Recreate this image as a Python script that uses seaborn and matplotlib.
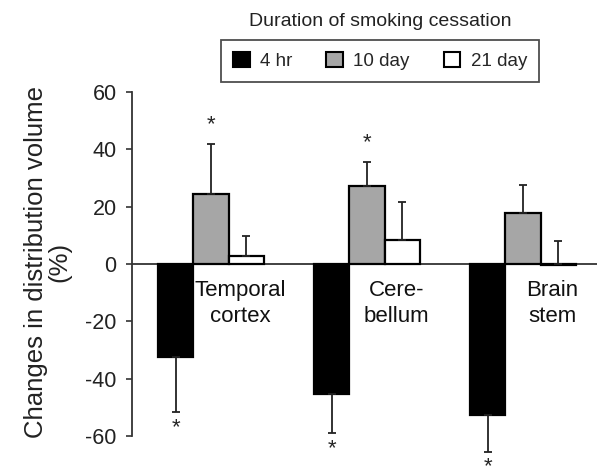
import pandas as pd
import matplotlib.pyplot as plt
import seaborn as sns
from matplotlib.patches import Patch

# Data
regions = ['Temporal\ncortex', 'Cere-\nbellum', 'Brain\nstem']
durations = ['4 hr', '10 day', '21 day']
change_4hr = [-32.3, -45.3, -52.7]
change_10day = [24.3, 27.2, 17.7]
change_21day = [2.9, 8.3, -0.4]
err_4hr = [19.3, 13.8, 12.8]
err_10day = [17.6, 8.5, 10.0]
err_21day = [6.9, 13.4, 8.2]
# error bars point down for 4 hr, up for the others
err_down = [True, False, False]
sig_4hr = [True, True, True]
sig_10day = [True, True, False]
sig_21day = [False, False, False]

colors = ['#000000', '#a6a6a6', '#ffffff']

df = pd.DataFrame({
    'Region': regions * 3,
    'Duration': [d for d in durations for _ in regions],
    'Change': change_4hr + change_10day + change_21day,
})
errs = [err_4hr, err_10day, err_21day]
sigs = [sig_4hr, sig_10day, sig_21day]

sns.set_style('white')
plt.rcParams['font.family'] = ['Liberation Sans', 'DejaVu Sans']
plt.rcParams['axes.unicode_minus'] = False

fig = plt.figure(figsize=(5.97, 4.73), dpi=100)
ax = fig.add_axes([0.2211, 0.0, 0.7789, 0.8055])

sns.barplot(data=df, x='Region', y='Change', hue='Duration', order=regions,
            hue_order=durations, palette=colors, edgecolor='black',
            linewidth=1.6, width=0.675, errorbar=None, legend=False, ax=ax,
            saturation=1)

# One-sided error bars and asterisks
for cont, err, sig, down in zip(ax.containers, errs, sigs, err_down):
    for bar, e, s in zip(cont, err, sig):
        x = bar.get_x() + bar.get_width() / 2
        y = bar.get_y() + bar.get_height()
        if down:
            y = min(bar.get_y(), y)
            lo, hi = e, 0
        else:
            y = max(bar.get_y(), y)
            lo, hi = 0, e
        ax.errorbar(x, y, yerr=[[lo], [hi]], fmt='none', ecolor='#222222',
                    elinewidth=1.3, capsize=3, capthick=1.3, zorder=1)
        if s:
            end = y + hi - lo
            off = 14 if hi > 0 else -11
            ax.annotate('*', (x, end), xytext=(0, off), textcoords='offset points',
                        ha='center', va='center', fontsize=16)

ax.axhline(0, color='#333333', lw=1.3, zorder=0)

for i, lab in enumerate(regions):
    ax.text(i + 0.19, -5.5, lab, ha='center', va='top', fontsize=16,
            linespacing=1.3, color='#111111')

ax.set_xlim(-0.506, 2.474)
ax.set_ylim(-72.9, 60)
ax.set_yticks([60, 40, 20, 0, -20, -40, -60])
ax.set_xticks([])
ax.set_xlabel('')
for sp in ['top', 'right', 'bottom']:
    ax.spines[sp].set_visible(False)
ax.spines['left'].set_bounds(-60, 60)
ax.spines['left'].set_color('#333333')
ax.spines['left'].set_linewidth(1.3)
ax.tick_params(axis='y', left=True, direction='out', length=4, width=1.2,
               color='#333333', pad=7, labelsize=15.5, labelcolor='#222222')
ax.set_ylabel('Changes in distribution volume\n(%)', fontsize=18.5,
              linespacing=1.0, color='#222222')
ax.yaxis.set_label_coords(-0.13, 0.554)

handles = [Patch(facecolor=c, edgecolor='black', linewidth=1.5) for c in colors]
leg = fig.legend(handles, durations, loc='center', bbox_to_anchor=(380 / 597, 1 - 61 / 473),
                 ncol=3, frameon=True, fancybox=False, fontsize=13.5,
                 handlelength=0.9, handleheight=0.9, handletextpad=0.55,
                 columnspacing=1.8, borderpad=0.65)
leg.get_frame().set_edgecolor('#222222')
leg.get_frame().set_linewidth(1.3)
fig.text(380 / 597, 1 - 22 / 473, 'Duration of smoking cessation', ha='center',
         va='center', fontsize=14, color='#222222')

fig.savefig('out.png', dpi=100)
